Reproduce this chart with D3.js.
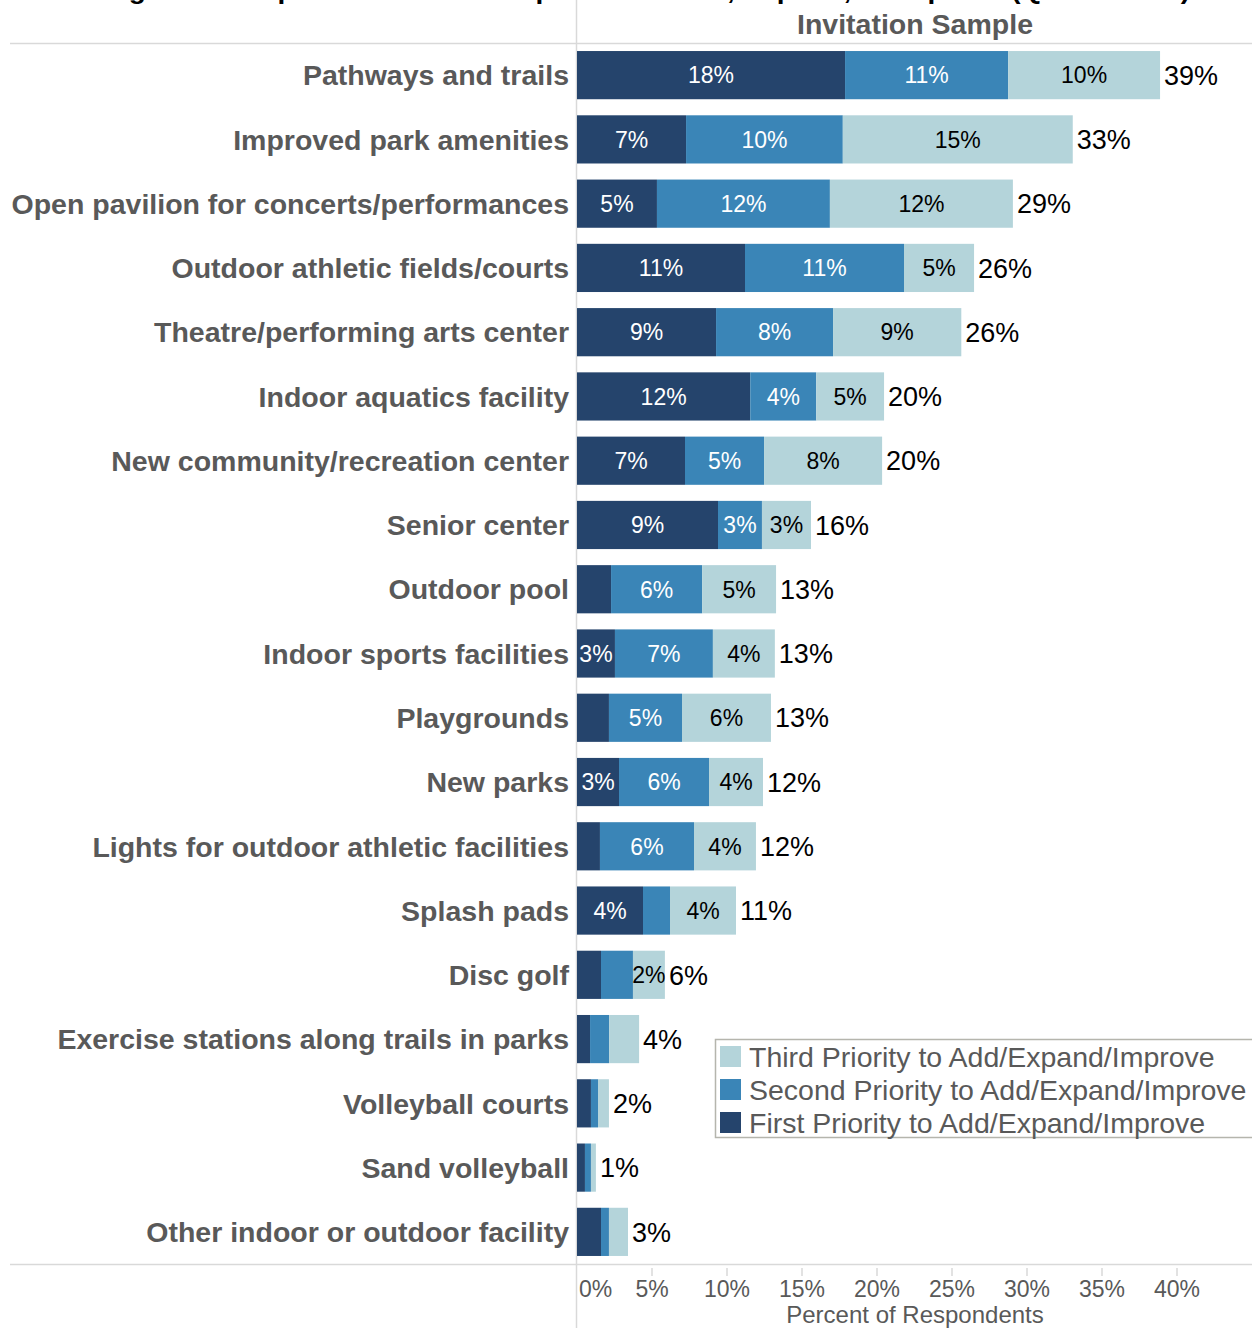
<!DOCTYPE html>
<html>
<head>
<meta charset="utf-8">
<script src="https://cdn.jsdelivr.net/npm/d3@7"></script>
<style>
    body { margin: 0; background: #fff; }
    svg { display: block; font-family: 'Liberation Sans', Arial, sans-serif; }
</style>
</head>
<body>
<div id="chart"></div>
<script>
/*global d3*/
(function () {
    'use strict';

    var categories = [
            'Pathways and trails',
            'Improved park amenities',
            'Open pavilion for concerts/performances',
            'Outdoor athletic fields/courts',
            'Theatre/performing arts center',
            'Indoor aquatics facility',
            'New community/recreation center',
            'Senior center',
            'Outdoor pool',
            'Indoor sports facilities',
            'Playgrounds',
            'New parks',
            'Lights for outdoor athletic facilities',
            'Splash pads',
            'Disc golf',
            'Exercise stations along trails in parks',
            'Volleyball courts',
            'Sand volleyball',
            'Other indoor or outdoor facility'
        ],
        firstPriority = [17.87, 7.27, 5.33, 11.2, 9.27, 11.55, 7.2, 9.4, 2.27, 2.53, 2.13, 2.8, 1.53, 4.4, 1.6, 0.87, 0.93, 0.53, 1.6],
        secondPriority = [10.87, 10.45, 11.53, 10.6, 7.8, 4.4, 5.27, 2.93, 6.07, 6.53, 4.87, 6.0, 6.27, 1.8, 2.13, 1.27, 0.47, 0.4, 0.53],
        thirdPriority = [10.13, 15.33, 12.2, 4.67, 8.55, 4.52, 7.87, 3.27, 4.93, 4.13, 5.93, 3.6, 4.13, 4.4, 2.13, 2.0, 0.73, 0.33, 1.27],
        seriesNames = [
            'First Priority to Add/Expand/Improve',
            'Second Priority to Add/Expand/Improve',
            'Third Priority to Add/Expand/Improve'
        ],
        xTicks = [0, 5, 10, 15, 20, 25, 30, 35, 40],

        width = 1252,
        height = 1328,
        colors = ['#25446c', '#3a85b7', '#b4d4da'],
        labelColors = ['#ffffff', '#ffffff', '#000000'],
        labelMin = [2.4, 2.4, 2.1],
        gray = '#595959',
        lineColor = '#d9d9d9',

        rows = categories.map(function (name, i) {
            return {name: name, values: [firstPriority[i], secondPriority[i], thirdPriority[i]]};
        }),
        stack = d3.stack().keys([0, 1, 2]).value(function (d, k) { return d.values[k]; }),
        series = stack(rows),

        x = d3.scaleLinear().domain([0, 45]).range([577, 1252]),
        y = d3.scaleBand().domain(categories).range([43, 1264]).paddingInner(0.25).paddingOuter(0.125),

        svg = d3.select('#chart')
            .append('svg')
            .attr('width', width)
            .attr('height', height);

    // title, cut off at the top edge like the source
    svg.append('text')
        .attr('x', 104)
        .attr('y', -1)
        .attr('textLength', 1086)
        .attr('lengthAdjust', 'spacingAndGlyphs')
        .style('font-size', '26px')
        .style('font-weight', 'bold')
        .style('fill', '#000')
        .text('Figure 14: Top Facilities Most Important to Add, Expand, or Improve (Question 14)');

    svg.append('text')
        .attr('x', 915)
        .attr('y', 34)
        .attr('text-anchor', 'middle')
        .style('font-size', '28.5px')
        .style('font-weight', 'bold')
        .style('fill', gray)
        .text('Invitation Sample');

    // frame lines
    svg.append('line')
        .attr('x1', 10).attr('x2', width)
        .attr('y1', 43.5).attr('y2', 43.5)
        .style('stroke', lineColor).style('stroke-width', 1.5);
    svg.append('line')
        .attr('x1', 10).attr('x2', width)
        .attr('y1', 1264.5).attr('y2', 1264.5)
        .style('stroke', lineColor).style('stroke-width', 1.5);
    svg.append('line')
        .attr('x1', x(0) - 0.5).attr('x2', x(0) - 0.5)
        .attr('y1', 0).attr('y2', height)
        .style('stroke', lineColor).style('stroke-width', 1.5);

    // stacked bars
    var layers = svg.selectAll('.layer')
        .data(series)
        .enter()
        .append('g')
        .attr('class', 'layer');

    layers.selectAll('rect')
        .data(function (s) { return s; })
        .enter()
        .append('rect')
        .attr('x', function (d) { return x(d[0]); })
        .attr('y', function (d) { return y(d.data.name); })
        .attr('width', function (d) { return x(d[1]) - x(d[0]); })
        .attr('height', y.bandwidth())
        .style('fill', function () { return colors[d3.select(this.parentNode).datum().key]; });

    layers.selectAll('text')
        .data(function (s) {
            return s.filter(function (d) { return d[1] - d[0] >= labelMin[s.key]; })
                .map(function (d) { d.key = s.key; return d; });
        })
        .enter()
        .append('text')
        .attr('x', function (d) { return (x(d[0]) + x(d[1])) / 2; })
        .attr('y', function (d) { return y(d.data.name) + y.bandwidth() / 2; })
        .attr('dy', '0.36em')
        .attr('text-anchor', 'middle')
        .style('font-size', '23px')
        .style('fill', function (d) { return labelColors[d.key]; })
        .text(function (d) { return Math.round(d[1] - d[0]) + '%'; });

    // totals
    svg.selectAll('.total')
        .data(rows)
        .enter()
        .append('text')
        .attr('class', 'total')
        .attr('x', function (d) { return x(d3.sum(d.values)) + 4; })
        .attr('y', function (d) { return y(d.name) + y.bandwidth() / 2; })
        .attr('dy', '0.36em')
        .style('font-size', '27px')
        .style('fill', '#000')
        .text(function (d) { return Math.round(d3.sum(d.values)) + '%'; });

    // category labels
    svg.selectAll('.cat')
        .data(categories)
        .enter()
        .append('text')
        .attr('class', 'cat')
        .attr('x', 569)
        .attr('y', function (d) { return y(d) + y.bandwidth() / 2; })
        .attr('dy', '0.36em')
        .attr('text-anchor', 'end')
        .style('font-size', '28.5px')
        .style('font-weight', 'bold')
        .style('fill', gray)
        .text(function (d) { return d; });

    // x axis
    var axis = svg.append('g').attr('class', 'x-axis');
    axis.selectAll('line')
        .data(xTicks.slice(1))
        .enter()
        .append('line')
        .attr('x1', function (d) { return x(d); })
        .attr('x2', function (d) { return x(d); })
        .attr('y1', 1268)
        .attr('y2', 1276)
        .style('stroke', lineColor)
        .style('stroke-width', 1.5);
    axis.selectAll('text')
        .data(xTicks)
        .enter()
        .append('text')
        .attr('x', function (d) { return d === 0 ? x(d) + 2 : x(d); })
        .attr('y', 1297)
        .attr('text-anchor', function (d) { return d === 0 ? 'start' : 'middle'; })
        .style('font-size', '23px')
        .style('fill', gray)
        .text(function (d) { return d + '%'; });
    svg.append('text')
        .attr('x', 915)
        .attr('y', 1323)
        .attr('text-anchor', 'middle')
        .style('font-size', '24px')
        .style('fill', gray)
        .text('Percent of Respondents');

    // legend
    var legend = svg.append('g').attr('transform', 'translate(715,1039)');
    legend.append('rect')
        .attr('x', 0.5).attr('y', 0.5)
        .attr('width', 560).attr('height', 98)
        .style('fill', '#fff')
        .style('stroke', '#b5b5ad')
        .style('stroke-width', 1.5);
    var items = legend.selectAll('.item')
        .data([2, 1, 0])
        .enter()
        .append('g')
        .attr('class', 'item')
        .attr('transform', function (d, i) { return 'translate(5,' + (7 + i * 33) + ')'; });
    items.append('rect')
        .attr('width', 21).attr('height', 21)
        .style('fill', function (d) { return colors[d]; });
    items.append('text')
        .attr('x', 29)
        .attr('y', 11)
        .attr('dy', '0.36em')
        .style('font-size', '28.5px')
        .style('fill', gray)
        .text(function (d) { return seriesNames[d]; });

}());
</script>
</body>
</html>
